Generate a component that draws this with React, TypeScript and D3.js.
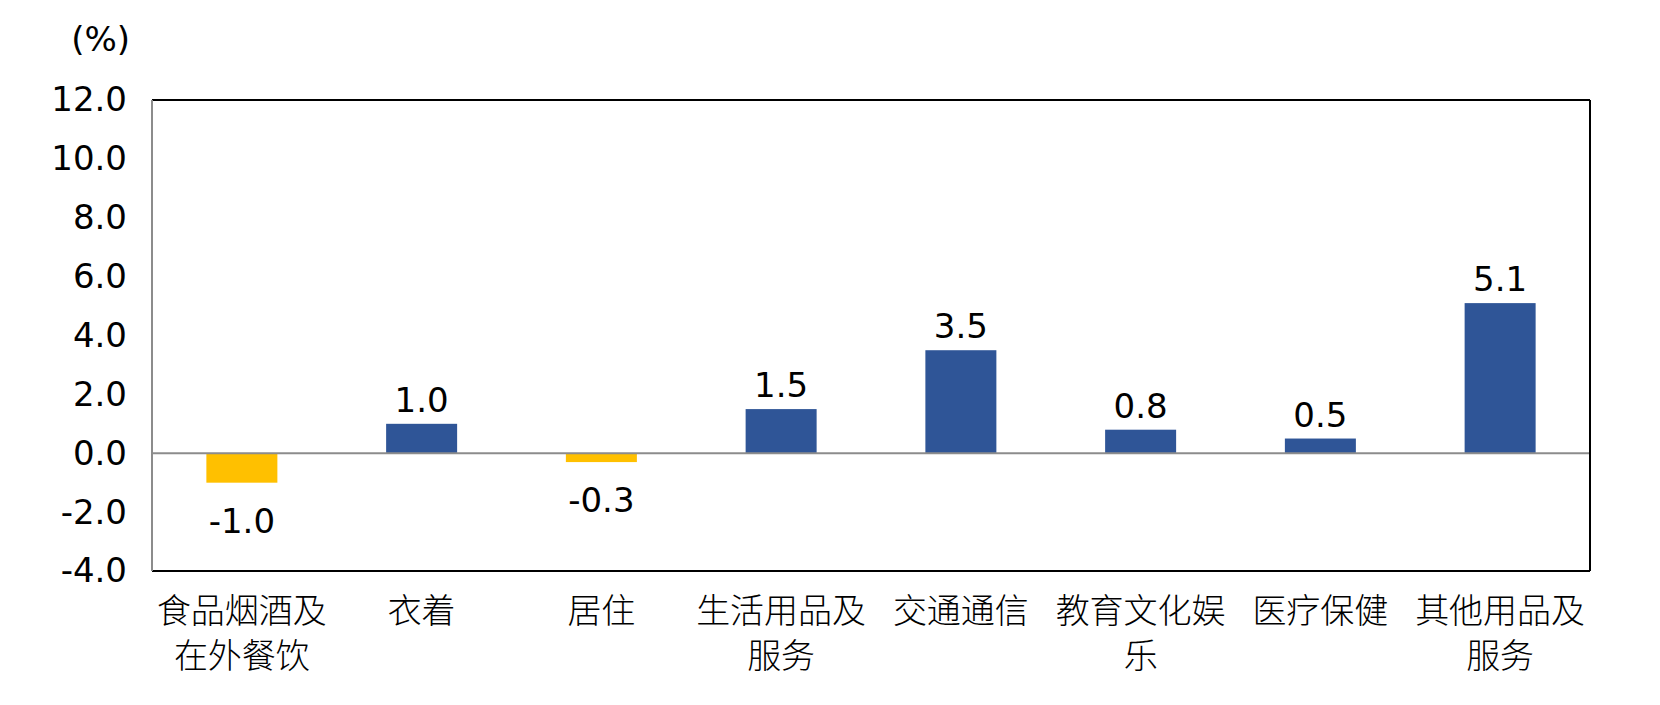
import { useEffect, useRef } from 'react';
import * as d3 from 'd3';

const categories = [
  ['食品烟酒及', '在外餐饮'],
  ['衣着'],
  ['居住'],
  ['生活用品及', '服务'],
  ['交通通信'],
  ['教育文化娱', '乐'],
  ['医疗保健'],
  ['其他用品及', '服务'],
];
const values = [-1.0, 1.0, -0.3, 1.5, 3.5, 0.8, 0.5, 5.1];
const yTicks = [-4, -2, 0, 2, 4, 6, 8, 10, 12];
const unitLabel = '(%)';

const WIDTH = 1660;
const HEIGHT = 705;

export default function App() {
  const svgRef = useRef<SVGSVGElement>(null);

  useEffect(() => {
    if (!svgRef.current) return;
    const svg = d3.select(svgRef.current);
    svg.selectAll('*').remove();

    const left = 152;
    const right = 1590;
    const top = 100;
    const bottom = 571;
    const numFont = '"DejaVu Sans", sans-serif';
    const cjkFont = '"Noto Sans CJK SC", sans-serif';

    const keys = categories.map((c) => c.join(''));
    const x = d3.scaleBand().domain(keys).range([left, right]).paddingInner(0.605).paddingOuter(0.3025);
    const y = d3.scaleLinear().domain([-4, 12]).range([bottom, top]);

    // bars
    svg
      .append('g')
      .selectAll('rect')
      .data(values)
      .join('rect')
      .attr('x', (_, i) => x(keys[i]) || 0)
      .attr('width', x.bandwidth())
      .attr('y', (d) => y(Math.max(0, d)))
      .attr('height', (d) => Math.abs(y(d) - y(0)))
      .attr('fill', (d) => (d < 0 ? '#FFC000' : '#2F5597'));

    // zero line
    svg
      .append('line')
      .attr('x1', left)
      .attr('x2', right)
      .attr('y1', y(0))
      .attr('y2', y(0))
      .attr('stroke', '#8c8c8c')
      .attr('stroke-width', 2);

    // frame
    svg.append('line').attr('x1', left).attr('x2', right).attr('y1', top).attr('y2', top).attr('stroke', '#000').attr('stroke-width', 2);
    svg.append('line').attr('x1', right).attr('x2', right).attr('y1', top).attr('y2', bottom).attr('stroke', '#000').attr('stroke-width', 2);
    svg.append('line').attr('x1', left).attr('x2', right).attr('y1', bottom).attr('y2', bottom).attr('stroke', '#000').attr('stroke-width', 2);
    svg.append('line').attr('x1', left).attr('x2', left).attr('y1', top).attr('y2', bottom).attr('stroke', '#8c8c8c').attr('stroke-width', 2);

    // y axis labels
    const yAxis = svg
      .append('g')
      .attr('transform', `translate(${left},0)`)
      .call(
        d3
          .axisLeft(y)
          .tickValues(yTicks)
          .tickSize(0)
          .tickPadding(25)
          .tickFormat((d) => (d as number).toFixed(1))
      );
    yAxis.select('.domain').remove();
    yAxis.selectAll('text').attr('fill', '#000').style('font-family', numFont).style('font-size', '34px');

    svg
      .append('text')
      .attr('x', 130)
      .attr('y', 39)
      .attr('dy', '0.35em')
      .attr('text-anchor', 'end')
      .style('font-family', numFont)
      .style('font-size', '34px')
      .text(unitLabel);

    // value labels
    svg
      .append('g')
      .selectAll('text')
      .data(values)
      .join('text')
      .attr('x', (_, i) => (x(keys[i]) || 0) + x.bandwidth() / 2)
      .attr('y', (d) => (d < 0 ? y(d) + 50 : y(d) - 12))
      .attr('text-anchor', 'middle')
      .style('font-family', numFont)
      .style('font-size', '34px')
      .text((d) => d.toFixed(1));

    // category labels
    const cat = svg
      .append('g')
      .selectAll('text')
      .data(categories)
      .join('text')
      .attr('x', (_, i) => (x(keys[i]) || 0) + x.bandwidth() / 2)
      .attr('y', 623)
      .attr('text-anchor', 'middle')
      .style('font-family', cjkFont)
      .style('font-size', '34px')
      .style('font-weight', 300)
      .attr('fill', '#000');
    cat
      .selectAll('tspan')
      .data((d) => d)
      .join('tspan')
      .attr('x', function () {
        return d3.select((this as Element).parentNode as Element).attr('x');
      })
      .attr('dy', (_, i) => (i === 0 ? 0 : 45))
      .text((d) => d);
  }, []);

  return (
    <svg
      ref={svgRef}
      width={WIDTH}
      height={HEIGHT}
      style={{ position: 'absolute', left: 0, top: 0, background: '#fff' }}
    />
  );
}
